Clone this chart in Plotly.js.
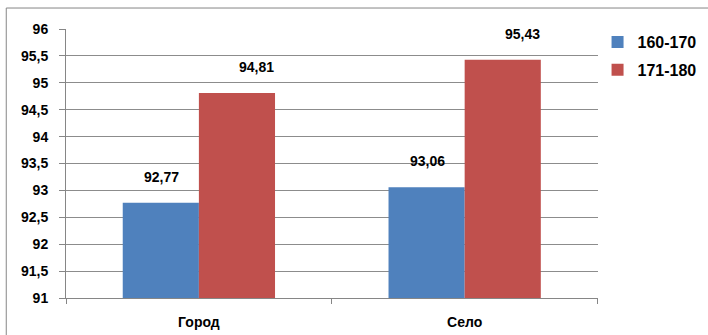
<!DOCTYPE html>
<html>
<head>
<meta charset="utf-8">
<script src="https://cdn.plot.ly/plotly-3.0.1.min.js"></script>
<style>html,body{margin:0;padding:0;background:#fff;}#chart{width:708px;height:335px;}</style>
</head>
<body>
<div id="chart"></div>
<script>
const categories = ['Город', 'Село'];
const seriesNames = ['160-170', '171-180'];
const values160 = [92.77, 93.06];
const values171 = [94.81, 95.43];
const labels160 = ['92,77', '93,06'];
const labels171 = ['94,81', '95,43'];
const yTicks = [91, 91.5, 92, 92.5, 93, 93.5, 94, 94.5, 95, 95.5, 96];

const FONT = '"Liberation Sans", Arial, sans-serif';
const colors = ['#4F81BD', '#C0504D'];

const traces = [
  {type: 'bar', name: seriesNames[0], x: categories, y: values160, marker: {color: colors[0]}, legendgroup: 'a', hoverinfo: 'none'},
  {type: 'bar', name: seriesNames[1], x: categories, y: values171, marker: {color: colors[1]}, legendgroup: 'b', hoverinfo: 'none'}
];

const annotations = [];
categories.forEach((c, i) => {
  annotations.push({x: i - 0.14, y: values160[i], xref: 'x', yref: 'y', text: labels160[i], showarrow: false, yanchor: 'middle', yshift: 26, font: {family: FONT, size: 14, color: '#000', weight: 'bold'}});
  annotations.push({x: i + 0.217, y: values171[i], xref: 'x', yref: 'y', text: labels171[i], showarrow: false, yanchor: 'middle', yshift: 26, font: {family: FONT, size: 14, color: '#000', weight: 'bold'}});
});

const layout = {
  width: 708, height: 335,
  margin: {l: 66, r: 108, t: 29, b: 37, pad: 0},
  paper_bgcolor: '#fff', plot_bgcolor: '#fff',
  separators: ', ',
  barmode: 'group', bargap: 0.427, bargroupgap: 0,
  font: {family: FONT, size: 14, color: '#000', weight: 'bold'},
  showlegend: true,
  legend: {xref: 'container', yref: 'container', x: 0.844, xanchor: 'left', y: 0.925, yanchor: 'top', traceorder: 'grouped', tracegroupgap: 4,
           font: {family: FONT, size: 16, color: '#000', weight: 'bold'}, bgcolor: 'rgba(0,0,0,0)'},
  xaxis: {type: 'category', showline: true, linecolor: '#868686', linewidth: 1, ticks: 'outside', ticklen: 5, tickcolor: '#868686',
          tickson: 'boundaries', showgrid: false, zeroline: false, ticklabelstandoff: 11,
          tickfont: {family: FONT, size: 14, color: '#000', weight: 'bold'}},
  yaxis: {range: [91, 96], tickvals: yTicks, showline: true, linecolor: '#868686', linewidth: 1, ticks: 'outside', ticklen: 6, tickcolor: '#868686',
          showgrid: true, gridcolor: '#8c8c8c', gridwidth: 1, zeroline: false, ticklabelstandoff: 8,
          tickfont: {family: FONT, size: 14, color: '#000', weight: 'bold'}},
  annotations: annotations,
  shapes: [{type: 'rect', xref: 'paper', yref: 'paper', x0: -0.1124, x1: 2, y0: -1, y1: 1.078, line: {color: '#868686', width: 1}, fillcolor: 'rgba(0,0,0,0)', layer: 'below'}]
};

Plotly.newPlot('chart', traces, layout, {displayModeBar: false, staticPlot: true});
</script>
</body>
</html>
